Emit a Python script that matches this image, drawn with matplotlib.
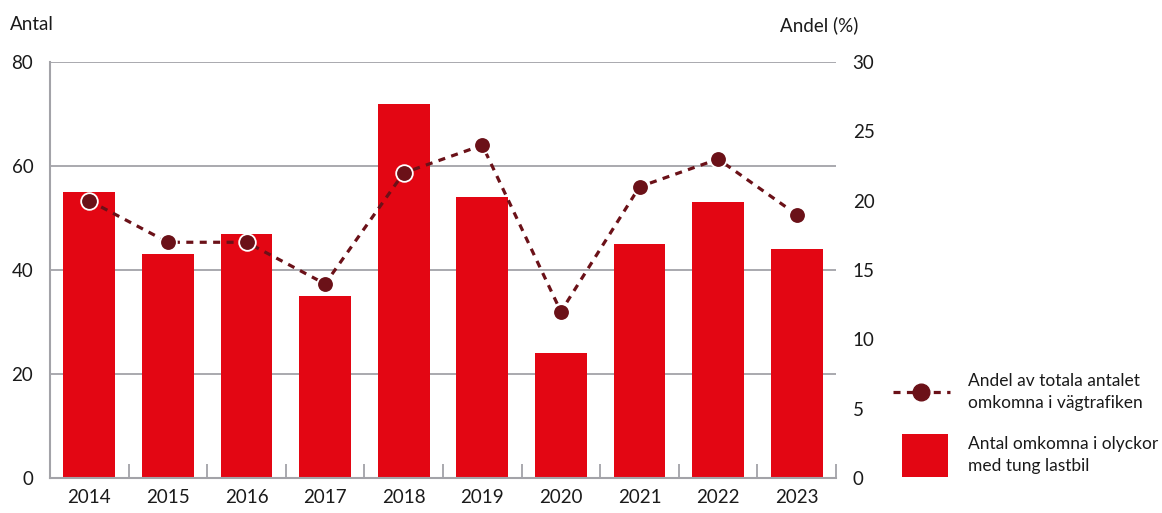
import matplotlib.pyplot as plt
from matplotlib.lines import Line2D
from matplotlib.patches import Rectangle

plt.rcParams['font.family'] = ['Lato', 'DejaVu Sans']

years = ['2014', '2015', '2016', '2017', '2018', '2019', '2020', '2021', '2022', '2023']
antal = [55, 43, 47, 35, 72, 54, 24, 45, 53, 44]
andel = [20, 17, 17, 14, 22, 24, 12, 21, 23, 19]

bar_col = '#e30613'
line_col = '#6b1118'
grid_col = '#a3a3a8'
txt_col = '#1a1a1a'
fs = 13.5

W, H = 1162, 513
fig = plt.figure(figsize=(W / 100, H / 100), dpi=100)
ax = fig.add_axes([50 / W, 1 - 478 / H, 786 / W, 416 / H])
x = list(range(len(years)))

ax.bar(x, antal, width=0.66, color=bar_col, zorder=2)
ax.set_ylim(0, 80)
ax.set_xlim(-0.5, 9.5)
ax.set_yticks([0, 20, 40, 60, 80])
ax.yaxis.grid(True, color=grid_col, lw=1.3, zorder=0)
ax.set_axisbelow(True)
ax.set_xticks(x)
ax.set_xticklabels(years)
ax.set_xticks([i + 0.5 for i in range(len(years))], minor=True)
ax.tick_params(axis='x', which='major', length=0, pad=8, labelsize=fs, labelcolor=txt_col)
ax.tick_params(axis='x', which='minor', direction='in', length=10, width=1.3, color=grid_col)
ax.tick_params(axis='y', length=0, pad=12, labelsize=fs, labelcolor=txt_col)
for s in ['top', 'right']:
    ax.spines[s].set_visible(False)
for s in ['left', 'bottom']:
    ax.spines[s].set_color(grid_col)
    ax.spines[s].set_linewidth(1.5)

dash = (0, (2.2, 2))
ax2 = ax.twinx()
ax2.plot(x, andel, color=line_col, lw=2.3, ls=dash, marker='o', ms=12,
         markerfacecolor=line_col, markeredgecolor='white', markeredgewidth=1.3, zorder=3)
ax2.set_ylim(0, 30)
ax2.set_yticks([0, 5, 10, 15, 20, 25, 30])
ax2.tick_params(axis='y', length=0, pad=12, labelsize=fs, labelcolor=txt_col)
for s in ['top', 'right', 'left', 'bottom']:
    ax2.spines[s].set_visible(False)

fig.text(10 / W, 1 - 25 / H, 'Antal', fontsize=fs, color=txt_col, va='center')
fig.text(858 / W, 1 - 25 / H, 'Andel (%)', fontsize=fs, color=txt_col, va='center', ha='right')

# legend, drawn by hand
ly = 1 - 392 / H
fig.add_artist(Line2D([893 / W, 921 / W, 950 / W], [ly, ly, ly], transform=fig.transFigure,
                      color=line_col, lw=2.3, ls=dash, marker='o', ms=12, markevery=[1],
                      markerfacecolor=line_col, markeredgecolor=line_col))
fig.add_artist(Rectangle((902 / W, 1 - 477 / H), 46 / W, 43 / H, transform=fig.transFigure,
                         facecolor=bar_col, edgecolor='none'))
fig.text(968 / W, ly, 'Andel av totala antalet\nomkomna i vägtrafiken', fontsize=12.5,
         color=txt_col, va='center', linespacing=1.4)
fig.text(968 / W, 1 - 455 / H, 'Antal omkomna i olyckor\nmed tung lastbil', fontsize=12.5,
         color=txt_col, va='center', linespacing=1.4)

fig.savefig('out.png', dpi=100)
